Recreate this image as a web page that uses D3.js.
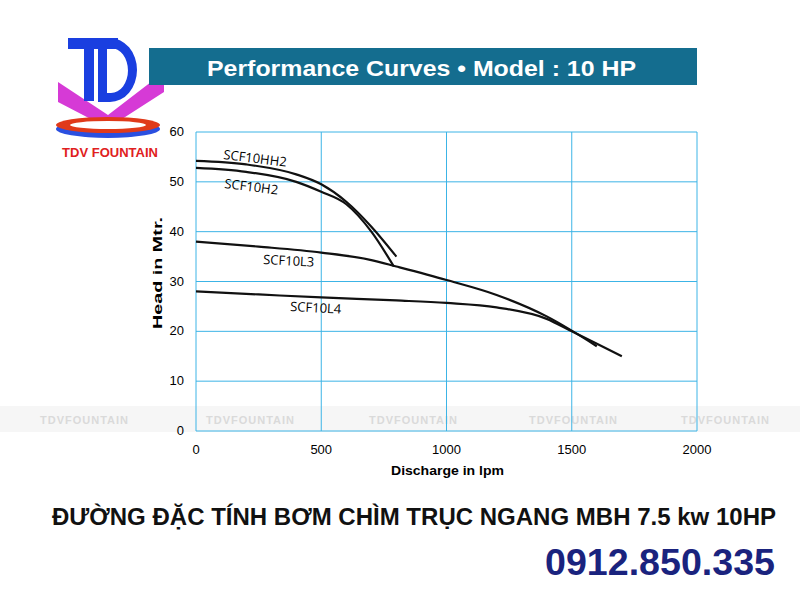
<!DOCTYPE html>
<html><head><meta charset="utf-8">
<script src="https://cdn.jsdelivr.net/npm/d3@7"></script>
<style>body{margin:0;background:#fff;font-family:Arial,"Liberation Sans",sans-serif}</style>
</head><body>
<svg id="chart" width="800" height="600"></svg>
<script>
// Data
var xTicks = [0, 500, 1000, 1500, 2000];
var yTicks = [0, 10, 20, 30, 40, 50, 60];
var hh2 = [[0, 54.2], [200, 53.5], [400, 51.5], [500, 49.5], [600, 46], [700, 41], [800, 35]];
var h2 = [[0, 52.8], [200, 52], [400, 50], [500, 48], [600, 45.5], [700, 40], [790, 33]];
var l3 = [[0, 38], [250, 37], [500, 35.8], [700, 34.3], [800, 33], [1000, 30.3], [1200, 27.3], [1400, 23], [1600, 17]];
var l4 = [[0, 28], [250, 27.4], [500, 26.8], [800, 26.2], [1000, 25.7], [1200, 24.8], [1400, 22.5], [1500, 20], [1700, 15]];
var series = [hh2, h2, l3, l4];
var labels = [["SCF10HH2", 223, 159, 7], ["SCF10H2", 224, 188, 7], ["SCF10L3", 263, 264, 3], ["SCF10L4", 290, 311, 3]];

var svg = d3.select("#chart");
var x = d3.scaleLinear().domain([0, 2000]).range([196, 697]);
var y = d3.scaleLinear().domain([0, 60]).range([431, 132]);

// Logo
svg.append("path").attr("d", "M58,82 L108,115 L164,72 L164,92 L108,128 L58,102 Z").attr("fill", "#d63ad6");
svg.append("rect").attr("x", 68).attr("y", 38).attr("width", 50).attr("height", 11).attr("fill", "#1a3fe0");
svg.append("rect").attr("x", 84).attr("y", 38).attr("width", 10).attr("height", 63).attr("fill", "#1a3fe0");
svg.append("path").attr("d", "M98,38 h12 a27,32 0 0 1 0,64 h-12 Z M107,48 v45 h4 a17,22.5 0 0 0 0,-45 Z")
  .attr("fill", "#1a3fe0").attr("fill-rule", "evenodd");
svg.append("ellipse").attr("cx", 108).attr("cy", 129).attr("rx", 52).attr("ry", 9).attr("fill", "#2a4fe0");
svg.append("ellipse").attr("cx", 108).attr("cy", 125).attr("rx", 52).attr("ry", 8).attr("fill", "#e03a1a");
svg.append("ellipse").attr("cx", 108).attr("cy", 125).attr("rx", 38).attr("ry", 4).attr("fill", "#fff");
svg.append("text").attr("x", 110).attr("y", 157).attr("text-anchor", "middle").attr("font-weight", "bold")
  .attr("font-size", 13).attr("fill", "#e02020").text("TDV FOUNTAIN");

// Title banner
svg.append("rect").attr("x", 149).attr("y", 48).attr("width", 548).attr("height", 37).attr("fill", "#146d8f");
svg.append("text").attr("x", 207).attr("y", 76).attr("fill", "#fff").attr("textLength", 429)
  .attr("lengthAdjust", "spacingAndGlyphs").attr("font-weight", "bold").attr("font-size", 22)
  .text("Performance Curves • Model : 10 HP");

// Watermark band
svg.append("rect").attr("x", 0).attr("y", 406).attr("width", 800).attr("height", 26).attr("fill", "#f6f6f6");
[40, 206, 369, 529, 681].forEach(function (d) {
  svg.append("text").attr("x", d).attr("y", 424).attr("font-size", 11).attr("font-weight", "bold")
    .attr("fill", "#dadada").attr("letter-spacing", 1).text("TDVFOUNTAIN");
});

// Grid
svg.append("g").selectAll("line").data(xTicks).enter().append("line")
  .attr("x1", d => x(d)).attr("x2", d => x(d)).attr("y1", y(0)).attr("y2", y(60))
  .attr("stroke", "#3cb4e6").attr("stroke-width", 1);
svg.append("g").selectAll("line").data(yTicks).enter().append("line")
  .attr("x1", x(0)).attr("x2", x(2000)).attr("y1", d => y(d)).attr("y2", d => y(d))
  .attr("stroke", "#3cb4e6").attr("stroke-width", 1);

// Tick labels
svg.append("g").selectAll("text").data(xTicks).enter().append("text")
  .attr("x", d => x(d)).attr("y", 454).attr("text-anchor", "middle").attr("font-size", 13).text(d => d);
svg.append("g").selectAll("text").data(yTicks).enter().append("text")
  .attr("x", 184).attr("y", d => y(d) + 4).attr("text-anchor", "end").attr("font-size", 13).text(d => d);

svg.append("text").attr("x", 391).attr("y", 475).attr("textLength", 113).attr("lengthAdjust", "spacingAndGlyphs")
  .attr("font-weight", "bold").attr("font-size", 13).text("Discharge in lpm");
svg.append("text").attr("transform", "translate(162,329) rotate(-90)").attr("textLength", 112)
  .attr("lengthAdjust", "spacingAndGlyphs").attr("font-weight", "bold").attr("font-size", 13).text("Head in Mtr.");

// Curves
var line = d3.line().x(d => x(d[0])).y(d => y(d[1])).curve(d3.curveMonotoneX);
series.forEach(function (s) {
  svg.append("path").attr("d", line(s)).attr("fill", "none").attr("stroke", "#111").attr("stroke-width", 2.2);
});
labels.forEach(function (l) {
  svg.append("text").attr("transform", "translate(" + l[1] + "," + l[2] + ") rotate(" + l[3] + ")")
    .attr("font-size", 13).attr("font-family", "Open Sans, sans-serif").text(l[0]);
});

// Footer
svg.append("text").attr("x", 52).attr("y", 525).attr("textLength", 724).attr("lengthAdjust", "spacingAndGlyphs")
  .attr("font-weight", "bold").attr("font-size", 23).attr("fill", "#111")
  .text("ĐƯỜNG ĐẶC TÍNH BƠM CHÌM TRỤC NGANG MBH 7.5 kw 10HP");
svg.append("text").attr("x", 545).attr("y", 575).attr("textLength", 230).attr("lengthAdjust", "spacingAndGlyphs")
  .attr("font-weight", "bold").attr("font-size", 36).attr("fill", "#1a237e").text("0912.850.335");
</script>
</body></html>
